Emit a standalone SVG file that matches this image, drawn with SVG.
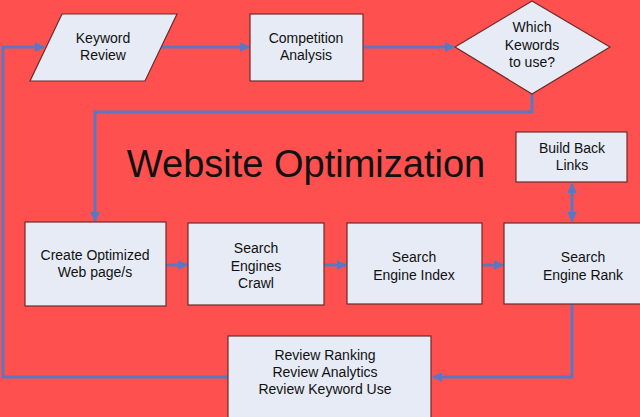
<svg xmlns="http://www.w3.org/2000/svg" width="640" height="417" viewBox="0 0 640 417">
<defs>
<style>
.n{fill:#E6EBF5;stroke:#6E2A2A;stroke-width:1.2}
.t{font-family:"Liberation Sans",Arial,sans-serif;font-size:14px;fill:#111;text-anchor:middle}
.c{fill:none;stroke:#5A78C2;stroke-width:3}
</style>
<marker id="ah" viewBox="0 0 10 10" refX="9" refY="5" markerWidth="3.4" markerHeight="3.4" orient="auto-start-reverse" markerUnits="strokeWidth">
<path d="M0,0 L10,5 L0,10 z" fill="#5A78C2"/>
</marker>
</defs>
<rect width="640" height="417" fill="#FF5050"/>
<g id="connectors">
<path class="c" d="M3,375 L3,47 L44,47" marker-end="url(#ah)"/>
<path class="c" d="M160,47 L249,47" marker-end="url(#ah)"/>
<path class="c" d="M363,47 L454,47" marker-end="url(#ah)"/>
<path class="c" d="M532,94 L532,112 L95,112 L95,221" marker-end="url(#ah)"/>
<path class="c" d="M166,265 L187,265" marker-end="url(#ah)"/>
<path class="c" d="M324,265 L346,265" marker-end="url(#ah)"/>
<path class="c" d="M482,265 L503,265" marker-end="url(#ah)"/>
<path class="c" d="M572,184 L572,221" marker-start="url(#ah)" marker-end="url(#ah)"/>
<path class="c" d="M572,304 L572,377 L433,377" marker-end="url(#ah)"/>
<path class="c" d="M3,375 L3,377 L228,377"/>
</g>
<text x="306" y="177" font-family="Liberation Sans,Arial,sans-serif" font-size="38" fill="#111" text-anchor="middle">Website Optimization</text>
<g id="keyword-review">
<polygon class="n" points="62,14 177,14 145,81 30,81"/>
<text class="t" x="103" y="43">Keyword</text>
<text class="t" x="103" y="60">Review</text>
</g>
<g id="competition-analysis">
<rect class="n" x="250" y="14" width="113" height="67"/>
<text class="t" x="306" y="43">Competition</text>
<text class="t" x="306" y="60">Analysis</text>
</g>
<g id="which-keywords">
<polygon class="n" points="532,1 610,47 532,94 455,47"/>
<text class="t" x="532" y="32">Which</text>
<text class="t" x="532" y="50">Kewords</text>
<text class="t" x="532" y="67">to use?</text>
</g>
<g id="create-optimized">
<rect class="n" x="25" y="222" width="141" height="84"/>
<text class="t" x="95" y="260">Create Optimized</text>
<text class="t" x="95" y="277">Web page/s</text>
</g>
<g id="search-engines-crawl">
<rect class="n" x="188" y="223" width="136" height="82"/>
<text class="t" x="256" y="253">Search</text>
<text class="t" x="256" y="271">Engines</text>
<text class="t" x="256" y="288">Crawl</text>
</g>
<g id="search-engine-index">
<rect class="n" x="347" y="223" width="135" height="81"/>
<text class="t" x="414" y="262">Search</text>
<text class="t" x="414" y="280">Engine Index</text>
</g>
<g id="search-engine-rank">
<rect class="n" x="504" y="223" width="140" height="81"/>
<text class="t" x="583" y="262">Search</text>
<text class="t" x="583" y="280">Engine Rank</text>
</g>
<g id="build-back-links">
<rect class="n" x="516" y="132" width="111" height="50"/>
<text class="t" x="572" y="153">Build Back</text>
<text class="t" x="572" y="170">Links</text>
</g>
<g id="review">
<rect class="n" x="228" y="336" width="203" height="90"/>
<text class="t" x="325" y="360">Review Ranking</text>
<text class="t" x="325" y="377">Review Analytics</text>
<text class="t" x="325" y="394">Review Keyword Use</text>
</g>
</svg>
